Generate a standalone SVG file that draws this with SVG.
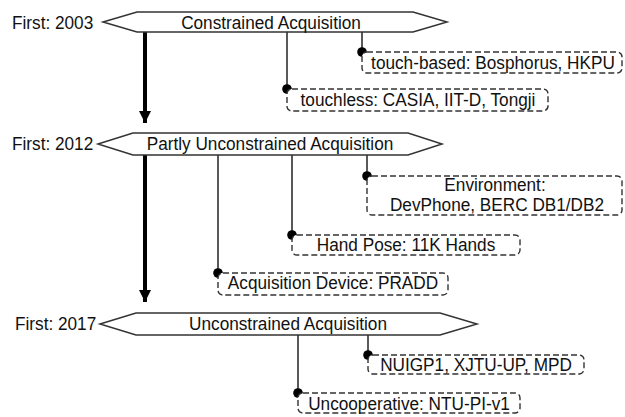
<svg xmlns="http://www.w3.org/2000/svg" width="625" height="417" viewBox="0 0 625 417">
<style>
text{font-family:"Liberation Sans",Arial,sans-serif;font-size:17.2px;fill:#111}
.hex{fill:#fff;stroke:#333;stroke-width:1.5}
.box{fill:#fff;stroke:#333;stroke-width:1.4;stroke-dasharray:6 3}
.ln{stroke:#222;stroke-width:1.5;fill:none}
.thick{stroke:#000;stroke-width:4;fill:none}
.dot{fill:#000}
.c{text-anchor:middle}
</style>
<defs>
<marker id="ah" markerWidth="14" markerHeight="12" refX="12" refY="6" orient="auto" markerUnits="userSpaceOnUse">
<path d="M0,0 L12,6 L0,12 Z" fill="#000"/>
</marker>
</defs>
<g id="connectors">
<line class="thick" x1="145" y1="32" x2="145" y2="123" marker-end="url(#ah)"/>
<line class="thick" x1="145" y1="155" x2="145" y2="302" marker-end="url(#ah)"/>
<line class="ln" x1="362" y1="32" x2="362" y2="52"/>
<circle class="dot" cx="362" cy="52" r="4.8"/>
<line class="ln" x1="287" y1="32" x2="287" y2="89"/>
<circle class="dot" cx="287" cy="89" r="4.8"/>
<line class="ln" x1="367" y1="155" x2="367" y2="176"/>
<circle class="dot" cx="367" cy="176" r="4.8"/>
<line class="ln" x1="292" y1="155" x2="292" y2="235"/>
<circle class="dot" cx="292" cy="235" r="4.8"/>
<line class="ln" x1="218" y1="155" x2="218" y2="273"/>
<circle class="dot" cx="218" cy="273" r="4.8"/>
<line class="ln" x1="368" y1="335" x2="368" y2="355"/>
<circle class="dot" cx="368" cy="355" r="4.8"/>
<line class="ln" x1="298" y1="335" x2="298" y2="393"/>
<circle class="dot" cx="298" cy="393" r="4.8"/>
</g>
<g id="stage1">
<text transform="translate(12 29) scale(1 1.1)">First: 2003</text>
<polygon class="hex" points="103,22 137,12 413,12 447,22 413,32 137,32"/>
<text class="c" transform="translate(271 28.5) scale(1 1.1)">Constrained Acquisition</text>
</g>
<g id="touch-based">
<rect class="box" x="362" y="52" width="260" height="21" rx="5"/>
<text class="c" transform="translate(493 68.5) scale(1 1.1)">touch-based: Bosphorus, HKPU</text>
</g>
<g id="touchless">
<rect class="box" x="287" y="89" width="261" height="22" rx="5"/>
<text class="c" transform="translate(418 106) scale(1 1.1)">touchless: CASIA, IIT-D, Tongji</text>
</g>
<g id="stage2">
<text transform="translate(12 150) scale(1 1.1)">First: 2012</text>
<polygon class="hex" points="98,144 133,133 408,133 442,144 408,155 133,155"/>
<text class="c" transform="translate(270 150) scale(1 1.1)">Partly Unconstrained Acquisition</text>
</g>
<g id="environment">
<rect class="box" x="367" y="176" width="255" height="39" rx="5"/>
<text class="c" transform="translate(495 190.5) scale(1 1.1)">Environment:</text>
<text class="c" transform="translate(497 211) scale(1 1.1)">DevPhone, BERC DB1/DB2</text>
</g>
<g id="handpose">
<rect class="box" x="292" y="235" width="228" height="20" rx="5"/>
<text class="c" transform="translate(406 251) scale(1 1.1)">Hand Pose: 11K Hands</text>
</g>
<g id="device">
<rect class="box" x="218" y="273" width="230" height="22" rx="5"/>
<text class="c" transform="translate(333 289) scale(1 1.1)">Acquisition Device: PRADD</text>
</g>
<g id="stage3">
<text transform="translate(15 330) scale(1 1.1)">First: 2017</text>
<polygon class="hex" points="100,324 136,313 440,313 477,324 440,335 136,335"/>
<text class="c" transform="translate(288 330) scale(1 1.1)">Unconstrained Acquisition</text>
</g>
<g id="nuigp">
<rect class="box" x="368" y="355" width="216" height="19" rx="5"/>
<text class="c" transform="translate(476 370.5) scale(1 1.1)">NUIGP1, XJTU-UP, MPD</text>
</g>
<g id="uncoop">
<rect class="box" x="298" y="393" width="222" height="20" rx="5"/>
<text class="c" transform="translate(409 409.5) scale(1 1.1)">Uncooperative: NTU-PI-v1</text>
</g>
</svg>
